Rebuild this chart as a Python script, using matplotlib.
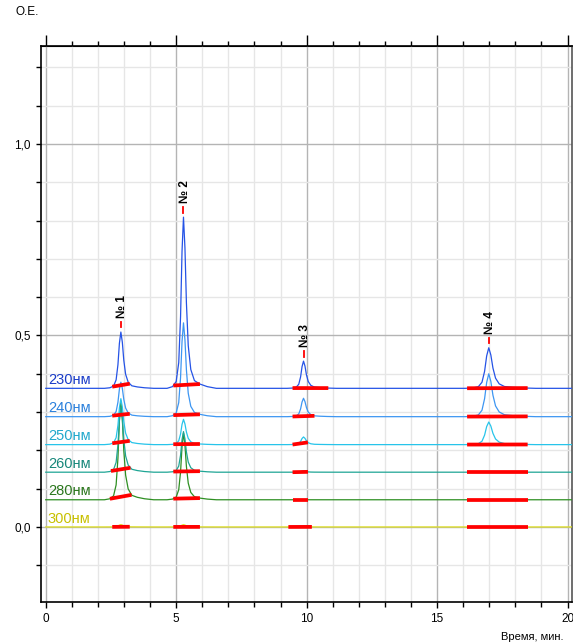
import numpy as np
import matplotlib
matplotlib.use("Agg")
import matplotlib.pyplot as plt
from matplotlib.ticker import MultipleLocator, FixedLocator, FuncFormatter

plt.rcParams['font.family'] = ['Liberation Sans', 'DejaVu Sans']

# --- data ---
wavelengths = ['230нм', '240нм', '250нм', '260нм', '280нм', '300нм']
baselines = [0.362, 0.288, 0.215, 0.143, 0.071, 0.0]
line_colors = ['#2553e6', '#3d96f2', '#27c4ea', '#1fa595', '#2e8f22', '#e0e020']
text_colors = ['#1a3cc8', '#2a80dc', '#20a8cc', '#17877a', '#2a761c', '#c8c000']

peak_names = ['№ 1', '№ 2', '№ 3', '№ 4']
peak_times = [2.88, 5.28, 9.88, 16.98]
peak_widths = [1.4, 1.4, 1.4, 2.0]
# peak heights above baseline, one row per wavelength
peak_heights = [
    [0.147, 0.447, 0.071, 0.106],
    [0.090, 0.245, 0.048, 0.112],
    [0.120, 0.066, 0.020, 0.059],
    [0.170, 0.106, 0.003, 0.000],
    [0.258, 0.174, 0.000, 0.000],
    [0.006, 0.006, 0.002, 0.000],
]
# tailing peak shape, offsets in minutes and relative height
profile_off = [-0.45, -0.3, -0.2, -0.13, -0.08, -0.04, 0.0, 0.04, 0.08, 0.13, 0.2, 0.3, 0.45, 0.65, 0.9]
profile_rel = [0.0, 0.01, 0.04, 0.15, 0.42, 0.8, 1.0, 0.82, 0.5, 0.25, 0.11, 0.045, 0.025, 0.01, 0.0]

# integration limits (start, end) per wavelength per peak
int_start = [
    [2.55, 4.89, 9.46, 16.15],
    [2.55, 4.89, 9.46, 16.15],
    [2.55, 4.89, 9.46, 16.15],
    [2.50, 4.89, 9.46, 16.15],
    [2.46, 4.89, 9.46, 16.15],
    [2.55, 4.89, 9.30, 16.15],
]
int_end = [
    [3.22, 5.91, 10.83, 18.47],
    [3.22, 5.91, 10.30, 18.47],
    [3.22, 5.91, 10.05, 18.47],
    [3.25, 5.91, 10.05, 18.47],
    [3.29, 5.91, 10.05, 18.47],
    [3.22, 5.91, 10.20, 18.47],
]

fig = plt.figure(figsize=(5.73, 6.44), dpi=100)
ax = fig.add_axes([40.5 / 573, 42 / 644, 531.5 / 573, 556 / 644])
ax.set_xlim(-0.2, 20.17)
ax.set_ylim(-0.196, 1.256)

off = np.array(profile_off)
rel = np.array(profile_rel)
traces = []
for i, base in enumerate(baselines):
    xs, ys = [0.0], [base]
    for j, t in enumerate(peak_times):
        xs.extend(t + off * peak_widths[j])
        ys.extend(base + rel * peak_heights[i][j])
    xs.append(20.17)
    ys.append(base)
    xs, ys = np.array(xs), np.array(ys)
    traces.append((xs, ys))

# draw from bottom (300) to top (230) so blue lines stay on top
for i in range(len(baselines) - 1, -1, -1):
    xs, ys = traces[i]
    ax.plot(xs, ys, color=line_colors[i], lw=0.9, zorder=3)

for i in range(len(baselines)):
    xs, ys = traces[i]
    for j in range(len(peak_times)):
        s, e = int_start[i][j], int_end[i][j]
        ax.plot([s, e], [np.interp(s, xs, ys), np.interp(e, xs, ys)],
                color='#ff0000', lw=2.7, solid_capstyle='butt', zorder=4)
    ax.text(0.08, baselines[i] + 0.022, wavelengths[i], color=text_colors[i],
            fontsize=10.5, va='center', ha='left', zorder=5)

# peak labels above the 230 nm trace
for j, t in enumerate(peak_times):
    top = baselines[0] + peak_heights[0][j]
    ax.plot([t, t], [top + 0.012, top + 0.026], color='#ff0000', lw=1.3, zorder=5)
    ax.text(t + 0.05, top + 0.037, peak_names[j], rotation=90, ha='center', va='bottom',
            fontsize=8.5, fontweight='bold', color='black')

# axes styling
ax.xaxis.set_major_locator(FixedLocator([0, 5, 10, 15, 20]))
ax.xaxis.set_minor_locator(MultipleLocator(1))
ax.yaxis.set_major_locator(FixedLocator([0.0, 0.5, 1.0]))
ax.yaxis.set_minor_locator(MultipleLocator(0.1))
ax.yaxis.set_major_formatter(FuncFormatter(lambda v, p: f"{v:.1f}".replace('.', ',')))
ax.grid(which='major', color='#b4b4b4', lw=1.0, zorder=0)
ax.grid(which='minor', color='#e6e6e6', lw=1.0, zorder=0)
ax.set_axisbelow(True)
ax.tick_params(which='both', direction='out', labelsize=8.5, width=1)
ax.tick_params(axis='y', which='both', length=3.6)
ax.tick_params(axis='x', which='major', length=4.5)
ax.tick_params(axis='x', which='minor', length=3.6)
for sp in ax.spines.values():
    sp.set_linewidth(1.2)
ax.spines['right'].set_color('#555555')

top = ax.secondary_xaxis('top')
top.xaxis.set_major_locator(FixedLocator([0, 5, 10, 15, 20]))
top.xaxis.set_minor_locator(MultipleLocator(1))
top.tick_params(which='major', length=8, width=1, labeltop=False)
top.tick_params(which='minor', length=3.6, width=1)
top.set_xticklabels([])

fig.text(16 / 573, 1 - 12 / 644, 'O.E.', fontsize=8.5, ha='left', va='center')
fig.text(501 / 573, 1 - 637 / 644, 'Время, мин.', fontsize=8, ha='left', va='center')

fig.savefig('out.png', dpi=100)
